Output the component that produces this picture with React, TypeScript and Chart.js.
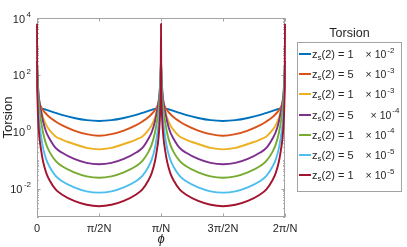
import React, { useEffect, useRef } from 'react';
import { Chart, registerables } from 'chart.js';

Chart.register(...registerables);

// x positions in units of π/N (0 … 2π/N)
const PHI = [
  0, 0.002, 0.005, 0.01, 0.02, 0.035, 0.05, 0.075, 0.1, 0.15, 0.2, 0.3, 0.4, 0.5,
  0.6, 0.7, 0.8, 0.85, 0.9, 0.925, 0.95, 0.965, 0.98, 0.99, 0.995, 0.998, 1,
  1.002, 1.005, 1.01, 1.02, 1.035, 1.05, 1.075, 1.1, 1.15, 1.2, 1.3, 1.4, 1.5,
  1.6, 1.7, 1.8, 1.85, 1.9, 1.925, 1.95, 1.965, 1.98, 1.99, 1.995, 1.998, 2,
];

const X_TICKS = [0, 0.5, 1, 1.5, 2];
const X_TICK_LABELS = ['0', 'π/2N', 'π/N', '3π/2N', '2π/N'];
const Y_TICK_EXPONENTS = [4, 2, 0, -2];

const TORSION_1E2 = [
  6.8, 6.8, 6.8, 6.78, 6.7, 6.55, 6.3, 5.9, 5.4, 4.6, 3.9, 3.05, 2.55, 2.39,
  2.55, 3.05, 3.9, 4.6, 5.4, 5.9, 6.3, 6.55, 6.7, 6.78, 6.8, 6.8, 6.8,
  6.8, 6.8, 6.78, 6.7, 6.55, 6.3, 5.9, 5.4, 4.6, 3.9, 3.05, 2.55, 2.39,
  2.55, 3.05, 3.9, 4.6, 5.4, 5.9, 6.3, 6.55, 6.7, 6.78, 6.8, 6.8, 6.8,
];
const TORSION_5E3 = [
  60, 40, 26, 17, 10.5, 7.2, 5.6, 4.2, 3.3, 2.3, 1.7, 1.1, 0.82, 0.72,
  0.82, 1.1, 1.7, 2.3, 3.3, 4.2, 5.6, 7.2, 10.5, 17, 26, 40, 60,
  40, 26, 17, 10.5, 7.2, 5.6, 4.2, 3.3, 2.3, 1.7, 1.1, 0.82, 0.72,
  0.82, 1.1, 1.7, 2.3, 3.3, 4.2, 5.6, 7.2, 10.5, 17, 26, 40, 60,
];
const TORSION_1E3 = [
  150, 90, 45, 22, 10, 5.2, 3.0, 1.7, 1.16, 0.68, 0.53, 0.37, 0.27, 0.24,
  0.27, 0.37, 0.53, 0.68, 1.16, 1.7, 3.0, 5.2, 10, 22, 45, 90, 150,
  90, 45, 22, 10, 5.2, 3.0, 1.7, 1.16, 0.68, 0.53, 0.37, 0.27, 0.24,
  0.27, 0.37, 0.53, 0.68, 1.16, 1.7, 3.0, 5.2, 10, 22, 45, 90, 150,
];
const TORSION_5E4 = [
  300, 160, 70, 30, 11, 4.6, 2.2, 0.96, 0.58, 0.27, 0.185, 0.11, 0.08, 0.072,
  0.08, 0.11, 0.185, 0.27, 0.58, 0.96, 2.2, 4.6, 11, 30, 70, 160, 300,
  160, 70, 30, 11, 4.6, 2.2, 0.96, 0.58, 0.27, 0.185, 0.11, 0.08, 0.072,
  0.08, 0.11, 0.185, 0.27, 0.58, 0.96, 2.2, 4.6, 11, 30, 70, 160, 300,
];
const TORSION_1E4 = [
  250, 180, 85, 24, 6.0, 2.0, 0.88, 0.35, 0.2, 0.094, 0.062, 0.037, 0.027, 0.024,
  0.027, 0.037, 0.062, 0.094, 0.2, 0.35, 0.88, 2.0, 6.0, 24, 85, 180, 250,
  180, 85, 24, 6.0, 2.0, 0.88, 0.35, 0.2, 0.094, 0.062, 0.037, 0.027, 0.024,
  0.027, 0.037, 0.062, 0.094, 0.2, 0.35, 0.88, 2.0, 6.0, 24, 85, 180, 250,
];
const TORSION_5E5 = [
  200, 140, 28, 7.3, 1.85, 0.6, 0.255, 0.104, 0.06, 0.028, 0.0185, 0.011, 0.008, 0.0072,
  0.008, 0.011, 0.0185, 0.028, 0.06, 0.104, 0.255, 0.6, 1.85, 7.3, 28, 140, 200,
  140, 28, 7.3, 1.85, 0.6, 0.255, 0.104, 0.06, 0.028, 0.0185, 0.011, 0.008, 0.0072,
  0.008, 0.011, 0.0185, 0.028, 0.06, 0.104, 0.255, 0.6, 1.85, 7.3, 28, 140, 200,
];
const TORSION_1E5 = [
  6300, 61, 9.7, 2.4, 0.61, 0.2, 0.086, 0.035, 0.02, 0.0094, 0.0062, 0.0037, 0.0027, 0.0024,
  0.0027, 0.0037, 0.0062, 0.0094, 0.02, 0.035, 0.086, 0.2, 0.61, 2.4, 9.7, 61, 6300,
  61, 9.7, 2.4, 0.61, 0.2, 0.086, 0.035, 0.02, 0.0094, 0.0062, 0.0037, 0.0027, 0.0024,
  0.0027, 0.0037, 0.0062, 0.0094, 0.02, 0.035, 0.086, 0.2, 0.61, 2.4, 9.7, 61, 6300,
];

const SERIES = [TORSION_1E2, TORSION_5E3, TORSION_1E3, TORSION_5E4, TORSION_1E4, TORSION_5E5, TORSION_1E5];
const COLORS = ['#0072BD', '#D95319', '#EDB120', '#7E2F8E', '#77AC30', '#4DBEEE', '#A2142F'];
const LEGEND_MANTISSA = ['1', '5', '1', '5', '1', '5', '1'];
const LEGEND_EXPONENT = ['-2', '-3', '-3', '-4', '-4', '-5', '-5'];

const FONT = '"Liberation Sans", Arial, Helvetica, sans-serif';
const TEXT_COLOR = '#262626';
const AXIS_COLOR = '#a3a3a3';

const axesPlugin = {
  id: 'matlabAxes',
  beforeDatasetsDraw(chart: any) {
    const { ctx, chartArea: a, scales } = chart;
    const xs = scales.x;
    const ys = scales.y;
    ctx.save();
    ctx.strokeStyle = AXIS_COLOR;
    ctx.lineWidth = 1;
    ctx.strokeRect(a.left + 0.5, a.top + 0.5, a.right - a.left - 1, a.bottom - a.top - 1);

    ctx.beginPath();
    for (const v of X_TICKS) {
      const px = Math.round(xs.getPixelForValue(v)) + 0.5;
      ctx.moveTo(px, a.bottom);
      ctx.lineTo(px, a.bottom - 3.5);
      ctx.moveTo(px, a.top);
      ctx.lineTo(px, a.top + 3.5);
    }
    for (let k = -3; k <= 4; k++) {
      const major = Y_TICK_EXPONENTS.includes(k);
      const len = major ? 3.5 : 1.8;
      const py = Math.round(ys.getPixelForValue(Math.pow(10, k))) + 0.5;
      ctx.moveTo(a.left, py);
      ctx.lineTo(a.left + len, py);
      ctx.moveTo(a.right, py);
      ctx.lineTo(a.right - len, py);
      if (k < 4) {
        for (let m = 2; m <= 9; m++) {
          const pm = Math.round(ys.getPixelForValue(m * Math.pow(10, k))) + 0.5;
          ctx.moveTo(a.left, pm);
          ctx.lineTo(a.left + 1.8, pm);
          ctx.moveTo(a.right, pm);
          ctx.lineTo(a.right - 1.8, pm);
        }
      }
    }
    ctx.stroke();
    ctx.restore();
  },
  afterDraw(chart: any) {
    const { ctx, chartArea: a, scales } = chart;
    const xs = scales.x;
    const ys = scales.y;
    ctx.save();
    ctx.fillStyle = TEXT_COLOR;
    ctx.textBaseline = 'middle';
    ctx.font = `11px ${FONT}`;
    ctx.textAlign = 'center';
    X_TICKS.forEach((v, i) => {
      ctx.fillText(X_TICK_LABELS[i], xs.getPixelForValue(v), a.bottom + 11.5);
    });

    const R = a.left - 6;
    for (const e of Y_TICK_EXPONENTS) {
      const py = ys.getPixelForValue(Math.pow(10, e));
      const expStr = String(e);
      ctx.font = `8px ${FONT}`;
      const we = ctx.measureText(expStr).width;
      ctx.textAlign = 'left';
      ctx.fillText(expStr, R - we, py - 3.5);
      ctx.font = `11px ${FONT}`;
      ctx.textAlign = 'right';
      ctx.fillText('10', R - we - 1.5, py + 1.5);
    }

    ctx.font = `13px ${FONT}`;
    ctx.textAlign = 'center';
    ctx.textBaseline = 'alphabetic';
    ctx.save();
    ctx.translate(11.5, (a.top + a.bottom) / 2);
    ctx.rotate(-Math.PI / 2);
    ctx.fillText('Torsion', 0, 0);
    ctx.restore();

    ctx.font = `italic 13px ${FONT}`;
    ctx.textBaseline = 'middle';
    ctx.fillText('ϕ', (a.left + a.right) / 2, 239);
    ctx.restore();
  },
};

export default function App() {
  const ref = useRef<HTMLCanvasElement>(null);

  useEffect(() => {
    document.body.style.margin = '0';
    const canvas = ref.current;
    if (!canvas) return;
    const chart = new Chart(canvas, {
      type: 'line',
      data: {
        datasets: SERIES.map((vals, i) => ({
          label: `z_s(2) = ${LEGEND_MANTISSA[i]} × 10^${LEGEND_EXPONENT[i]}`,
          data: PHI.map((x, j) => ({ x, y: vals[j] })),
          borderColor: COLORS[i],
          backgroundColor: COLORS[i],
          borderWidth: 1.9,
          pointRadius: 0,
          fill: false,
          clip: false,
          cubicInterpolationMode: 'monotone' as const,
          order: SERIES.length - 1 - i,
        })),
      },
      options: {
        animation: false,
        responsive: false,
        events: [],
        layout: { padding: { left: 37, top: 18, right: 122, bottom: 30 } },
        scales: {
          x: { type: 'linear', min: 0, max: 2, display: false },
          y: { type: 'logarithmic', min: 1e-3, max: 1e4, display: false },
        },
        plugins: { legend: { display: false }, tooltip: { enabled: false } },
      },
      plugins: [axesPlugin],
    } as any);
    return () => chart.destroy();
  }, []);

  return (
    <div style={{ position: 'fixed', left: 0, top: 0, width: 407, height: 247, background: '#fff', fontFamily: FONT, color: TEXT_COLOR }}>
      <canvas ref={ref} width={407} height={247} style={{ position: 'absolute', left: 0, top: 0, width: 407, height: 247 }} />
      <div style={{ position: 'absolute', left: 297, top: 26, width: 105, textAlign: 'center', fontSize: 12.5, lineHeight: '14px' }}>Torsion</div>
      <div style={{ position: 'absolute', left: 297, top: 42, width: 105, height: 150, boxSizing: 'border-box', border: `1px solid ${AXIS_COLOR}`, background: '#fff' }} />
      {COLORS.map((c, i) => (
        <div key={i} style={{ position: 'absolute', left: 298.5, top: 54 + i * 20.2 - 8, height: 16, display: 'flex', alignItems: 'center', fontSize: 11, whiteSpace: 'pre' }}>
          <span style={{ display: 'inline-block', width: 12, height: 2, background: c, marginRight: 1.5 }} />
          <span>z</span>
          <span style={{ fontSize: 8, position: 'relative', top: 3.5 }}>s</span>
          <span>{`(2) = ${LEGEND_MANTISSA[i]}`}</span>
          <span style={{ marginLeft: i === 3 ? 17 : 12, fontSize: 10.5 }}>× 10</span>
          <span style={{ fontSize: 8, position: 'relative', top: -4, marginLeft: 1 }}>{LEGEND_EXPONENT[i]}</span>
        </div>
      ))}
    </div>
  );
}
